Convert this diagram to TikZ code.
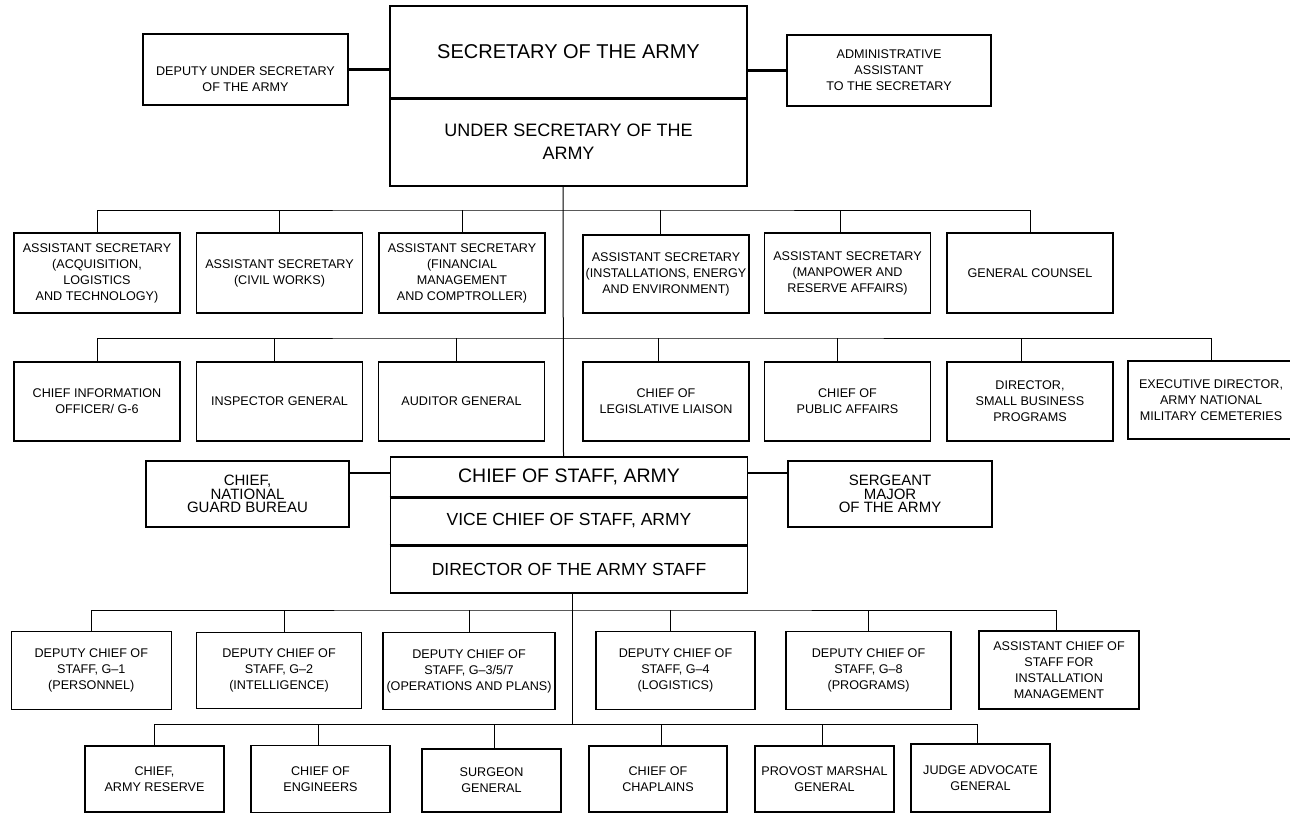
\documentclass[tikz,border=0pt]{standalone}
\usepackage{fontspec}
\setmainfont{Liberation Sans}
\newcommand\petit{\fontsize{12.6}{16}\selectfont}
\newcommand\serre{\fontsize{15}{13.5}\selectfont}
\begin{document}
\begin{tikzpicture}[x=1pt, y=-1pt,
    poste/.style={draw, line width=1.1pt, align=center, inner sep=0pt, font=\petit},
    lien/.style={line width=1pt},
    lienfort/.style={line width=2.4pt},
    filet/.style={line width=2.2pt}]
    \useasboundingbox (0,0) rectangle (1290,814);

    % Secretaire et sous-secretaire
    \node[poste, minimum width=357, minimum height=92, font=\fontsize{20}{24}\selectfont] (sec) at (568.5,52) {SECRETARY OF THE ARMY};
    \node[poste, minimum width=357, minimum height=88, font=\fontsize{18}{23}\selectfont] (usec) at (568.5,142) {UNDER SECRETARY OF THE\\ARMY};
    \draw[filet] (sec.south west) -- (sec.south east);
    \node[poste, minimum width=205, minimum height=71] (dusa) at (245.5,69.5) {\rule{0pt}{29pt}DEPUTY UNDER SECRETARY\\OF THE ARMY};
    \node[poste, minimum width=204, minimum height=71] (aa) at (889,70.5) {ADMINISTRATIVE\\ASSISTANT\\TO THE SECRETARY};
    \draw[lienfort] (dusa.east) -- (dusa.east -| sec.west);
    \draw[lienfort] (aa.west) -- (aa.west -| sec.east);

    % Secretaires adjoints
    \node[poste, minimum width=166, minimum height=80] (asa1) at (97,273) {ASSISTANT SECRETARY\\(ACQUISITION,\\LOGISTICS\\AND TECHNOLOGY)};
    \node[poste, minimum width=166, minimum height=80] (asa2) at (279.5,273) {ASSISTANT SECRETARY\\(CIVIL WORKS)};
    \node[poste, minimum width=166, minimum height=80] (asa3) at (462,273) {ASSISTANT SECRETARY\\(FINANCIAL\\MANAGEMENT\\AND COMPTROLLER)};
    \node[poste, minimum width=166, minimum height=78] (asa4) at (666,274) {ASSISTANT SECRETARY\\(INSTALLATIONS, ENERGY\\AND ENVIRONMENT)};
    \node[poste, minimum width=166, minimum height=80] (asa5) at (847.5,273) {ASSISTANT SECRETARY\\(MANPOWER AND\\RESERVE AFFAIRS)};
    \node[poste, minimum width=166, minimum height=80] (gc) at (1030,273) {GENERAL COUNSEL};
    \coordinate (b1) at (563,210);
    \draw[lien] (asa1.north) |- (b1) -| (gc.north);
    \draw[lien] (asa2.north) -- (asa2.north |- b1);
    \draw[lien] (asa3.north) -- (asa3.north |- b1);
    \draw[lien] ([xshift=-6]asa4.north) -- ([xshift=-6]asa4.north |- b1);
    \draw[lien] ([xshift=-7]asa5.north) -- ([xshift=-7]asa5.north |- b1);

    % Chefs et directeurs rattaches
    \node[poste, minimum width=166, minimum height=79] (cio) at (97,401.5) {CHIEF INFORMATION\\OFFICER/ G-6};
    \node[poste, minimum width=166, minimum height=79] (ig) at (279.5,401.5) {INSPECTOR GENERAL};
    \node[poste, minimum width=166, minimum height=79] (aud) at (461.5,401.5) {AUDITOR GENERAL};
    \node[poste, minimum width=166, minimum height=79] (ll) at (666,401.5) {CHIEF OF\\LEGISLATIVE LIAISON};
    \node[poste, minimum width=166, minimum height=79] (pa) at (847.5,401.5) {CHIEF OF\\PUBLIC AFFAIRS};
    \node[poste, minimum width=166, minimum height=79] (sb) at (1030,401.5) {DIRECTOR,\\SMALL BUSINESS\\PROGRAMS};
    \node[poste, minimum width=166, minimum height=78] (anmc) at (1211,400) {EXECUTIVE DIRECTOR,\\ARMY NATIONAL\\MILITARY CEMETERIES};
    \coordinate (b2) at (563,338);
    \draw[lien] (cio.north) |- (b2) -| (anmc.north);
    \draw[lien] ([xshift=-5]ig.north) -- ([xshift=-5]ig.north |- b2);
    \draw[lien] ([xshift=-5]aud.north) -- ([xshift=-5]aud.north |- b2);
    \draw[lien] ([xshift=-8]ll.north) -- ([xshift=-8]ll.north |- b2);
    \draw[lien] ([xshift=-10]pa.north) -- ([xshift=-10]pa.north |- b2);
    \draw[lien] ([xshift=-9]sb.north) -- ([xshift=-9]sb.north |- b2);

    % Etat-major
    \node[poste, minimum width=357.5, minimum height=40, font=\fontsize{19.5}{23}\selectfont] (cs) at (569,477) {CHIEF OF STAFF, ARMY};
    \node[poste, minimum width=357.5, minimum height=48, font=\fontsize{17.5}{21}\selectfont] (vcs) at (569,521) {VICE CHIEF OF STAFF, ARMY};
    \node[poste, minimum width=357.5, minimum height=48, font=\fontsize{17.5}{21}\selectfont] (das) at (569,569) {DIRECTOR OF THE ARMY STAFF};
    \draw[filet] (cs.south west) -- (cs.south east);
    \draw[filet] (vcs.south west) -- (vcs.south east);
    \node[poste, minimum width=203, minimum height=66, font=\serre] (ngb) at (247.5,494) {CHIEF,\\NATIONAL\\GUARD BUREAU};
    \node[poste, minimum width=204, minimum height=66, font=\serre] (sma) at (890,494) {SERGEANT\\MAJOR\\OF THE ARMY};
    \draw[lienfort] ([yshift=4]cs.west) -- ([yshift=4]cs.west -| ngb.east);
    \draw[lienfort] ([yshift=4]cs.east) -- ([yshift=4]cs.east -| sma.west);
    \draw[lien] ([xshift=-5.5]usec.south) -- ([xshift=-5.5]cs.north);

    % Sous-chefs d'etat-major
    \node[poste, minimum width=160, minimum height=78] (g1) at (91.3,670.5) {DEPUTY CHIEF OF\\STAFF, G–1\\(PERSONNEL)};
    \node[poste, minimum width=165, minimum height=76] (g2) at (279,670.5) {DEPUTY CHIEF OF\\STAFF, G–2\\(INTELLIGENCE)};
    \node[poste, minimum width=172, minimum height=77] (g3) at (469,671) {DEPUTY CHIEF OF\\STAFF, G–3/5/7\\(OPERATIONS AND PLANS)};
    \node[poste, minimum width=159, minimum height=78] (g4) at (675.5,670.5) {DEPUTY CHIEF OF\\STAFF, G–4\\(LOGISTICS)};
    \node[poste, minimum width=165, minimum height=78] (g8) at (868.5,670.5) {DEPUTY CHIEF OF\\STAFF, G–8\\(PROGRAMS)};
    \node[poste, minimum width=160, minimum height=78] (acsim) at (1059,670) {ASSISTANT CHIEF OF\\STAFF FOR\\INSTALLATION\\MANAGEMENT};
    \coordinate (b4) at (572,610);
    \draw[lien] (g1.north) |- (b4) -| ([xshift=-3]acsim.north);
    \draw[lien] ([xshift=5]g2.north) -- ([xshift=5]g2.north |- b4);
    \draw[lien] (g3.north) -- (g3.north |- b4);
    \draw[lien] ([xshift=-5]g4.north) -- ([xshift=-5]g4.north |- b4);
    \draw[lien] (g8.north) -- (g8.north |- b4);

    % Services speciaux
    \node[poste, minimum width=139, minimum height=66] (car) at (154.5,779) {CHIEF,\\ARMY RESERVE};
    \node[poste, minimum width=139, minimum height=67] (coe) at (320.5,779) {CHIEF OF\\ENGINEERS};
    \node[poste, minimum width=139, minimum height=63] (sg) at (491.5,780.5) {SURGEON\\GENERAL};
    \node[poste, minimum width=138, minimum height=66] (cch) at (658,779) {CHIEF OF\\CHAPLAINS};
    \node[poste, minimum width=139, minimum height=66] (pmg) at (824.5,779) {PROVOST MARSHAL\\GENERAL};
    \node[poste, minimum width=139, minimum height=68] (tjag) at (980.5,778) {JUDGE ADVOCATE\\GENERAL};
    \coordinate (b5) at (572,724);
    \draw[lien] (car.north) |- (b5) -| ([xshift=-3]tjag.north);
    \draw[lien] ([xshift=-2]coe.north) -- ([xshift=-2]coe.north |- b5);
    \draw[lien] ([xshift=3]sg.north) -- ([xshift=3]sg.north |- b5);
    \draw[lien] ([xshift=3]cch.north) -- ([xshift=3]cch.north |- b5);
    \draw[lien] ([xshift=-2]pmg.north) -- ([xshift=-2]pmg.north |- b5);
    \draw[lien] ([xshift=3]das.south) -- (b5);
\end{tikzpicture}
\end{document}
